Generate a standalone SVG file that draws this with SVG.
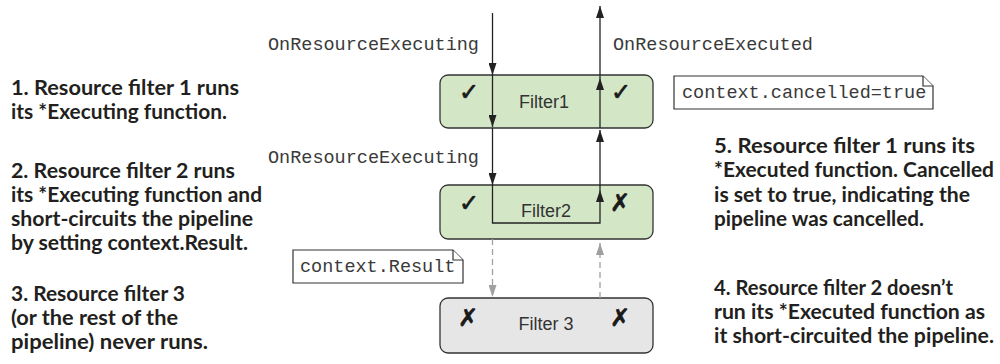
<svg xmlns="http://www.w3.org/2000/svg" width="1000" height="364" viewBox="0 0 1000 364">
<style>
.box{stroke:#333;stroke-width:1.3}
.green{fill:#d3e7c6}
.grey{fill:#e6e6e6}
.lbl{font-family:"Liberation Sans",Arial,sans-serif;font-size:18px;fill:#333;text-anchor:middle}
.mono{font-family:"Liberation Mono","Courier New",monospace;font-size:18.5px;fill:#3a3a3a}
.note{fill:#fff;stroke:#333;stroke-width:1.2}
.sym{font-family:"DejaVu Sans",sans-serif;font-size:24px;fill:#1a1a1a;stroke:#1a1a1a;stroke-width:0.7;text-anchor:middle}
.desc{font-family:Lato,"Open Sans",sans-serif;font-weight:700;font-size:21px;fill:#231f20}
.conn{fill:none;stroke:#222;stroke-width:1.3}
.dash{fill:none;stroke:#a0a0a0;stroke-width:1.3;stroke-dasharray:6 4}
</style>
<defs>
<marker id="ah" markerUnits="userSpaceOnUse" markerWidth="12" markerHeight="8" refX="12" refY="4" orient="auto">
<path d="M0,0 L12,4 L0,8 Z" fill="#222"/>
</marker>
<marker id="ahg" markerUnits="userSpaceOnUse" markerWidth="12" markerHeight="8" refX="12" refY="4" orient="auto">
<path d="M0,0 L12,4 L0,8 Z" fill="#a0a0a0"/>
</marker>
</defs>

<g id="filter1">
<rect class="box green" x="440" y="75" width="213" height="53" rx="8"/>
<text class="lbl" x="544" y="108">Filter1</text>
<text class="sym" x="469" y="100">✓</text>
<text class="sym" x="621" y="100">✓</text>
</g>
<g id="filter2">
<rect class="box green" x="440" y="185" width="213" height="54" rx="8"/>
<text class="lbl" x="546" y="217">Filter2</text>
<text class="sym" x="469" y="211">✓</text>
<text class="sym" x="620" y="211">✗</text>
</g>
<g id="filter3">
<rect class="box grey" x="440" y="298" width="213" height="55" rx="8"/>
<text class="lbl" x="546" y="330">Filter 3</text>
<text class="sym" x="468" y="326">✗</text>
<text class="sym" x="620" y="326">✗</text>
</g>

<g id="connectors">
<path class="conn" d="M492.5,13 V75" marker-end="url(#ah)"/>
<path class="conn" d="M492.5,75 V127" marker-end="url(#ah)"/>
<path class="conn" d="M492.5,128 V185" marker-end="url(#ah)"/>
<path class="conn" d="M492.5,185 V223 H600 V190" marker-end="url(#ah)"/>
<path class="conn" d="M600,190 V130" marker-end="url(#ah)"/>
<path class="conn" d="M600,128 V78" marker-end="url(#ah)"/>
<path class="conn" d="M600,78 V6" marker-end="url(#ah)"/>
<path class="dash" d="M492.5,239 V297" marker-end="url(#ahg)"/>
<path class="dash" d="M600,298 V243" marker-end="url(#ahg)"/>
</g>

<g id="labels">
<text class="mono" x="268" y="50">OnResourceExecuting</text>
<text class="mono" x="613" y="50">OnResourceExecuted</text>
<text class="mono" x="268" y="163">OnResourceExecuting</text>
</g>

<g id="note-cancelled">
<path class="note" d="M674,76 H923 L933,86 V109 H674 Z"/>
<path class="note" d="M923,76 V86 H933"/>
<text class="mono" x="682" y="98">context.cancelled=true</text>
</g>
<g id="note-result">
<path class="note" d="M293,250 H453 L463,260 V283 H293 Z"/>
<path class="note" d="M453,250 V260 H463"/>
<text class="mono" x="300" y="272">context.Result</text>
</g>

<g id="desc-left">
<text class="desc" x="11" y="95" textLength="228" lengthAdjust="spacingAndGlyphs">1. Resource filter 1 runs</text>
<text class="desc" x="11" y="119" textLength="216" lengthAdjust="spacingAndGlyphs">its *Executing function.</text>
<text class="desc" x="11" y="178" textLength="224" lengthAdjust="spacingAndGlyphs">2. Resource filter 2 runs</text>
<text class="desc" x="11" y="202" textLength="251" lengthAdjust="spacingAndGlyphs">its *Executing function and</text>
<text class="desc" x="11" y="226" textLength="242" lengthAdjust="spacingAndGlyphs">short-circuits the pipeline</text>
<text class="desc" x="11" y="250" textLength="237" lengthAdjust="spacingAndGlyphs">by setting context.Result.</text>
<text class="desc" x="11" y="301" textLength="174" lengthAdjust="spacingAndGlyphs">3. Resource filter 3</text>
<text class="desc" x="11" y="325" textLength="167" lengthAdjust="spacingAndGlyphs">(or the rest of the</text>
<text class="desc" x="11" y="349" textLength="197" lengthAdjust="spacingAndGlyphs">pipeline) never runs.</text>
</g>
<g id="desc-right">
<text class="desc" x="714" y="153" textLength="261" lengthAdjust="spacingAndGlyphs">5. Resource filter 1 runs its</text>
<text class="desc" x="714" y="177" textLength="280" lengthAdjust="spacingAndGlyphs">*Executed function. Cancelled</text>
<text class="desc" x="714" y="202" textLength="256" lengthAdjust="spacingAndGlyphs">is set to true, indicating the</text>
<text class="desc" x="714" y="226" textLength="210" lengthAdjust="spacingAndGlyphs">pipeline was cancelled.</text>
<text class="desc" x="714" y="295" textLength="239" lengthAdjust="spacingAndGlyphs">4. Resource filter 2 doesn’t</text>
<text class="desc" x="714" y="319" textLength="271" lengthAdjust="spacingAndGlyphs">run its *Executed function as</text>
<text class="desc" x="714" y="343" textLength="280" lengthAdjust="spacingAndGlyphs">it short-circuited the pipeline.</text>
</g>
</svg>
